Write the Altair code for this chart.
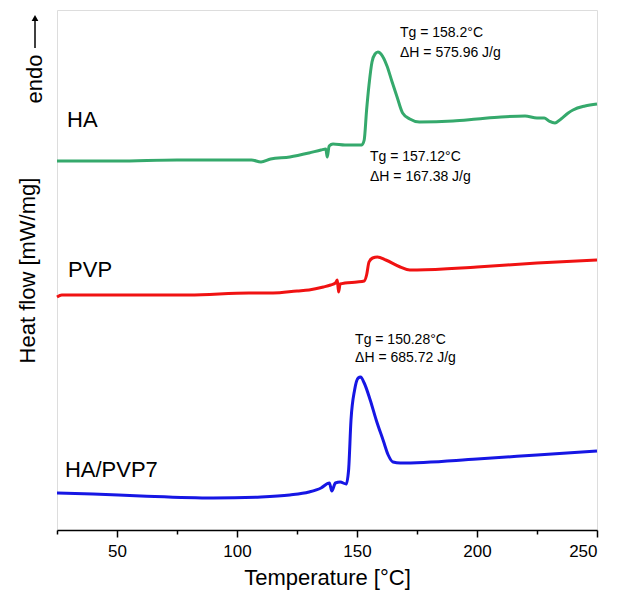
import altair as alt
import pandas as pd

# ---- data ----
series_names = ["HA", "PVP", "HA/PVP7"]

ha_T = [25, 50, 75, 100, 106, 110, 114, 122, 130, 135, 137, 137.6, 138.4, 140, 145, 152, 153, 154, 155,
        156.25, 157.5, 158.75, 160, 162.5, 164.5, 166.7, 169, 172, 176, 190, 200, 210, 220, 225, 228,
        230, 232.5, 235, 238, 240, 245, 250]
ha_v = [369, 369, 370, 370, 370, 368, 371, 373, 377, 380, 381, 373, 384, 386, 385, 385, 390, 420, 445,
        468, 476, 478, 476, 464, 449, 433, 417, 411, 408, 409, 411, 413, 414, 412, 412,
        409, 407, 411, 417, 420, 424, 426]

pvp_T = [25, 27, 52, 80, 105, 115, 125, 130, 136, 139, 141, 141.8, 142.3, 143, 145, 150, 153, 154, 155,
         156.5, 158.5, 162, 168, 172, 175, 200, 225, 250]
pvp_v = [233, 235, 235, 235, 237, 237, 239, 240, 243, 245, 247, 250, 238, 246, 247, 248, 249, 255, 268,
         272, 273, 270, 263, 260, 260, 263, 267, 270]

mix_T = [25, 40, 60, 90, 110, 122, 130, 135, 138.5, 139.5, 141, 143, 145.5, 146.5, 147.5, 149, 150.5,
         151.5, 153, 155.5, 158, 161, 163, 165, 168, 200, 225, 250]
mix_v = [37, 36, 34, 32, 33, 35, 38, 42, 47, 39, 47, 48, 46, 60, 110, 140, 152,
         153, 147, 130, 110, 89, 75, 68, 67, 71, 75, 79]

label_T = [29.2, 29.6, 28.3]
label_v = [410, 260, 60]

ann_text = ["Tg = 158.2°C", "ΔH = 575.96 J/g",
            "Tg = 157.12°C", "ΔH = 167.38 J/g",
            "Tg = 150.28°C", "ΔH = 685.72 J/g"]
ann_T = [167.9, 167.9, 155.4, 155.4, 149.2, 149.2]
ann_v = [497, 477, 373, 353, 190, 172]

x_ticks = [25, 50, 75, 100, 125, 150, 175, 200, 225, 250]
colors = ["#35a96c", "#f01212", "#1616e4"]

# ---- tables ----
df = pd.concat([
    pd.DataFrame({"series": "HA", "T": ha_T, "v": ha_v}),
    pd.DataFrame({"series": "PVP", "T": pvp_T, "v": pvp_v}),
    pd.DataFrame({"series": "HA/PVP7", "T": mix_T, "v": mix_v}),
], ignore_index=True)
labels_df = pd.DataFrame({"T": label_T, "v": label_v, "text": series_names})
ann_df = pd.DataFrame({"T": ann_T, "v": ann_v, "text": ann_text})

FONT = "Liberation Sans"

x_enc = alt.X("T:Q",
              scale=alt.Scale(domain=[25, 250], nice=False, zero=False),
              axis=alt.Axis(values=x_ticks,
                            labelExpr="datum.value % 50 === 0 ? datum.label : ''",
                            tickSize={"condition": {"test": "datum.value % 50 === 0", "value": 7}, "value": 4},
                            title="Temperature [°C]", grid=False,
                            labelFont=FONT, labelFontSize=17, labelColor="black", labelPadding=6,
                            titleFont=FONT, titleFontSize=22, titleFontWeight="normal",
                            titleColor="black", titlePadding=8,
                            domainColor="black", domainWidth=1.5,
                            tickColor="black", tickWidth=1.5))
y_enc = alt.Y("v:Q",
              scale=alt.Scale(domain=[0, 520], nice=False, zero=False),
              axis=alt.Axis(title="Heat flow [mW/mg]", labels=False, ticks=False, domain=False,
                            grid=False, titleFont=FONT, titleFontSize=22, titleFontWeight="normal",
                            titleColor="black", titlePadding=18))

lines = alt.Chart(df).mark_line(strokeWidth=3, interpolate="monotone").encode(
    x=x_enc, y=y_enc,
    color=alt.Color("series:N", scale=alt.Scale(domain=series_names, range=colors), legend=None),
)

labels = alt.Chart(labels_df).mark_text(align="left", baseline="middle", font=FONT,
                                        fontSize=22, color="black").encode(
    x="T:Q", y="v:Q", text="text:N")

ann = alt.Chart(ann_df).mark_text(align="left", baseline="middle", font=FONT,
                                  fontSize=14, color="black").encode(
    x="T:Q", y="v:Q", text="text:N")

endo = alt.Chart(pd.DataFrame({"t": ["endo"]})).mark_text(
    angle=270, align="center", baseline="middle", font=FONT, fontSize=22, color="black").encode(
    x=alt.value(-22), y=alt.value(69), text="t:N")

arrow_line = alt.Chart(pd.DataFrame({"t": ["a"]})).mark_rule(color="black", strokeWidth=1.5).encode(
    x=alt.value(-22), y=alt.value(38), y2=alt.value(10))

arrow_head = alt.Chart(pd.DataFrame({"t": ["a"]})).mark_point(
    shape="triangle-up", filled=True, size=45, color="black", opacity=1).encode(
    x=alt.value(-22), y=alt.value(8))

chart = alt.layer(lines, labels, ann, endo, arrow_line, arrow_head).properties(
    width=540, height=520,
    autosize=alt.AutoSizeParams(type="none"),
    padding={"left": 49, "top": 2, "right": 20, "bottom": 60},
).configure_view(stroke="black", strokeWidth=1.5).configure(background="white")

chart.save("out.html", embed_options={"renderer": "svg", "actions": False})
